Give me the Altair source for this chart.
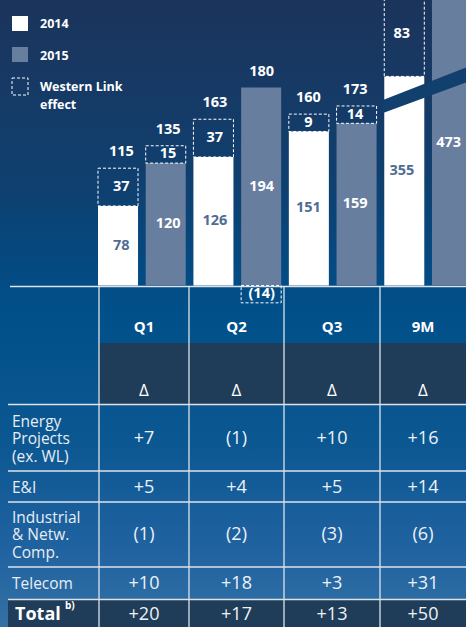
import altair as alt
import pandas as pd

# ---------------- data ----------------
periods = ["Q1", "Q2", "Q3", "9M"]
sales_2014 = [78, 126, 151, 355]
sales_2015 = [120, 194, 159, 473]
wl_2014 = [37, 37, 9, 83]
wl_2015 = [15, -14, 14, None]
show_total = [True, True, True, False]
# the 9M columns are drawn on a broken axis (units removed by the break)
axis_break = [0, 0, 0, 150]

row_labels = ["Energy\nProjects\n(ex. WL)", "E&I", "Industrial\n& Netw.\nComp.", "Telecom", "Total"]
delta_energy = ["+7", "(1)", "+10", "+16"]
delta_ei = ["+5", "+4", "+5", "+14"]
delta_industrial = ["(1)", "(2)", "(3)", "(6)"]
delta_telecom = ["+10", "+18", "+3", "+31"]
delta_total = ["+20", "+17", "+13", "+50"]
legend_labels = ["2014", "2015", "Western Link\neffect"]

# ---------------- layout constants ----------------
W, H = 466, 627
K = 1.02            # px per unit
BASE = 285.5        # baseline pixel
YMAX = BASE / K
YMIN = YMAX - H / K
MIN_BOX = 17
FONT = "Open Sans"
C2014, C2015 = "#ffffff", "#687e9f"
DARK = "#1f3d58"
LINE = "#dce3ea"

keys = [f"{p} {y}" for p in periods for y in ("2014", "2015")]
XB = alt.Scale(domain=keys, range=[98, 472], paddingInner=0.161, paddingOuter=0)
YV = alt.Scale(domain=[YMIN, YMAX], range=[H, 0], nice=False, zero=False)
PX = alt.Scale(domain=[0, W], range=[0, W], nice=False, zero=False)
PY = alt.Scale(domain=[0, H], range=[0, H], nice=False, zero=False)

# ---------------- bar table ----------------
recs = []
for i, p in enumerate(periods):
    for year, vals, wls in (("2014", sales_2014, wl_2014), ("2015", sales_2015, wl_2015)):
        v = vals[i]
        disp = v - axis_break[i]
        wl = wls[i]
        mid = min(disp, YMAX) / 2
        if axis_break[i] and year == "2014":
            mid += 10
        r = dict(key=f"{p} {year}", year=year, value=v, disp=disp, mid=mid, label=str(v))
        if wl is not None:
            h = max(abs(wl), MIN_BOX)
            if wl > 0:
                r.update(b0=disp, b1=disp + h, wl_label=str(wl), top=disp + h)
            else:
                r.update(b0=0, b1=-h, wl_label=f"({abs(wl)})", top=disp)
            r["wl_mid"] = (r["b0"] + r["b1"]) / 2
            if show_total[i]:
                r["total"] = str(v + wl)
        recs.append(r)
bars = pd.DataFrame(recs)
boxes = bars.dropna(subset=["wl_label"])
totals = bars.dropna(subset=["total"])

xb = alt.X("key:N", scale=XB, axis=None)

def ax(f):
    return alt.X(f, scale=PX, axis=None)

def ay(f):
    return alt.Y(f, scale=PY, axis=None)

one = alt.Data(values=[{}])

# background
bg = alt.Chart(one).mark_rect(
    color=alt.LinearGradient(
        gradient="linear", x1=0, x2=0, y1=0, y2=1,
        stops=[alt.GradientStop(color="#1b345b", offset=0),
               alt.GradientStop(color="#163a66", offset=0.15),
               alt.GradientStop(color="#0e4070", offset=0.3),
               alt.GradientStop(color="#044a82", offset=0.43),
               alt.GradientStop(color="#01508a", offset=0.5),
               alt.GradientStop(color="#0b5792", offset=0.7),
               alt.GradientStop(color="#1f62a0", offset=0.87),
               alt.GradientStop(color="#3371a5", offset=1)])
).encode(x=alt.value(0), x2=alt.value(W), y=alt.value(0), y2=alt.value(H))

# dark table rows
dark = pd.DataFrame({"x0": [99, 8], "x1": [W, W], "y0": [343, 600], "y1": [404, H]})
dark_l = alt.Chart(dark).mark_rect(color=DARK).encode(
    x=ax("x0:Q"), x2="x1:Q", y=ay("y0:Q"), y2="y1:Q")

# table rules
hr = pd.DataFrame({"x0": [10, 8, 8, 8, 8, 8], "x1": [W] * 6,
                   "y": [286.5, 404.5, 471, 502, 567, 599.5]})
vr = pd.DataFrame({"x": [99, 189, 284, 380], "y0": [286] * 4, "y1": [H] * 4})
hr_l = alt.Chart(hr).mark_rule(color=LINE, strokeWidth=1.6).encode(
    x=ax("x0:Q"), x2="x1:Q", y=ay("y:Q"))
vr_l = alt.Chart(vr).mark_rule(color=LINE, strokeWidth=1.3).encode(
    x=ax("x:Q"), y=ay("y0:Q"), y2="y1:Q")

# bars
bar_l = alt.Chart(bars).mark_bar(clip=True).encode(
    x=xb, y=alt.Y("disp:Q", scale=YV, axis=None), y2=alt.datum(0),
    color=alt.Color("year:N", scale=alt.Scale(domain=["2014", "2015"], range=[C2014, C2015]),
                    legend=None))

# axis break band over the 9M bars
brk = pd.DataFrame({"x": [383, 470], "top": [100, 66], "bot": [113, 81]})
brk_l = alt.Chart(brk).mark_area(color="#113f6e").encode(
    x=ax("x:Q"), y=ay("top:Q"), y2="bot:Q")

# Western Link boxes
box_l = alt.Chart(boxes).mark_bar(
    clip=True, fill="white", fillOpacity=0, stroke="white", strokeDash=[3, 2], strokeWidth=1
).encode(x=xb, y=alt.Y("b0:Q", scale=YV, axis=None), y2="b1:Q")

lab14 = alt.Chart(bars[bars.year == "2014"]).mark_text(
    font=FONT, fontSize=14.5, fontWeight="bold", color="#4e6d92", baseline="middle"
).encode(x=xb, y=alt.Y("mid:Q", scale=YV, axis=None), text="label:N")
lab15 = alt.Chart(bars[bars.year == "2015"]).mark_text(
    font=FONT, fontSize=14.5, fontWeight="bold", color="white", baseline="middle"
).encode(x=xb, y=alt.Y("mid:Q", scale=YV, axis=None), text="label:N")
wl_lab = alt.Chart(boxes).mark_text(
    font=FONT, fontSize=14.5, fontWeight="bold", color="white", baseline="middle"
).encode(x=xb, y=alt.Y("wl_mid:Q", scale=YV, axis=None), text="wl_label:N")
tot_lab = alt.Chart(totals).mark_text(
    font=FONT, fontSize=14.5, fontWeight="bold", color="white", baseline="middle", dy=-16
).encode(x=xb, y=alt.Y("top:Q", scale=YV, axis=None), text="total:N")

# legend
leg_sq = pd.DataFrame({"x0": [12] * 3, "x1": [28] * 3, "y0": [16, 47, 78], "y1": [31, 62, 95],
                       "kind": ["a", "b", "c"]})
leg_a = alt.Chart(leg_sq[leg_sq.kind == "a"]).mark_rect(color=C2014).encode(
    x=ax("x0:Q"), x2="x1:Q", y=ay("y0:Q"), y2="y1:Q")
leg_b = alt.Chart(leg_sq[leg_sq.kind == "b"]).mark_rect(color=C2015).encode(
    x=ax("x0:Q"), x2="x1:Q", y=ay("y0:Q"), y2="y1:Q")
leg_c = alt.Chart(leg_sq[leg_sq.kind == "c"]).mark_rect(
    fillOpacity=0, fill="white", stroke="white", strokeDash=[3, 2], strokeWidth=1).encode(
    x=ax("x0:Q"), x2="x1:Q", y=ay("y0:Q"), y2="y1:Q")
leg_df = pd.DataFrame({"x": [40, 40, 40], "y": [24, 56, 87], "t": legend_labels})
leg_t = alt.Chart(leg_df).mark_text(
    font=FONT, fontSize=12.5, fontWeight="bold", color="white", align="left", baseline="middle",
    lineBreak="\n", lineHeight=18
).encode(x=ax("x:Q"), y=ay("y:Q"), text="t:N")

# table text
COLS = [144, 236.5, 332, 423]
hdr = pd.DataFrame({"x": COLS, "t": periods})
hdr_l = alt.Chart(hdr).mark_text(
    font=FONT, fontSize=15, fontWeight="bold", color="white", baseline="middle"
).encode(x=ax("x:Q"), y=alt.value(327), text="t:N")
dl = pd.DataFrame({"x": COLS, "t": ["Δ"] * 4})
dl_l = alt.Chart(dl).mark_text(
    font=FONT, fontSize=17, color="white", baseline="middle"
).encode(x=ax("x:Q"), y=alt.value(391), text="t:N")

ROWS_Y = [439, 488, 535, 584, 615]
cells = []
for r, vals in enumerate([delta_energy, delta_ei, delta_industrial, delta_telecom, delta_total]):
    for c, v in enumerate(vals):
        cells.append(dict(x=COLS[c], y=ROWS_Y[r], t=v))
cell_l = alt.Chart(pd.DataFrame(cells)).mark_text(
    font=FONT, fontSize=18, color="#eef2f6", baseline="middle"
).encode(x=ax("x:Q"), y=ay("y:Q"), text="t:N")

LH = 17.5
rl = pd.DataFrame({
    "x": [12] * 4,
    "y": [ROWS_Y[r] - (row_labels[r].count("\n")) * LH / 2 for r in range(4)],
    "t": row_labels[:-1]})
rl_l = alt.Chart(rl).mark_text(
    font=FONT, fontSize=15.5, color="#e8eef4", align="left", baseline="middle",
    lineBreak="\n", lineHeight=LH
).encode(x=ax("x:Q"), y=ay("y:Q"), text="t:N")
tot_row = alt.Chart(pd.DataFrame({"x": [15], "y": [ROWS_Y[-1]], "t": [row_labels[-1]]})).mark_text(
    font=FONT, fontSize=18, fontWeight="bold", color="white", align="left", baseline="middle"
).encode(x=ax("x:Q"), y=ay("y:Q"), text="t:N")
sup = alt.Chart(pd.DataFrame({"x": [65], "y": [606], "t": ["b)"]})).mark_text(
    font=FONT, fontSize=10, fontWeight="bold", color="white", align="left", baseline="middle"
).encode(x=ax("x:Q"), y=ay("y:Q"), text="t:N")

chart = alt.layer(
    bg, dark_l, hr_l, vr_l, bar_l, brk_l, box_l, lab14, lab15, wl_lab, tot_lab,
    leg_a, leg_b, leg_c, leg_t, hdr_l, dl_l, cell_l, rl_l, tot_row, sup
).resolve_scale(x="independent", y="independent", color="independent").properties(
    width=W, height=H, padding=0, autosize="none"
).configure_view(stroke=None)

chart.save("out.html", embed_options={"renderer": "svg", "actions": False})
